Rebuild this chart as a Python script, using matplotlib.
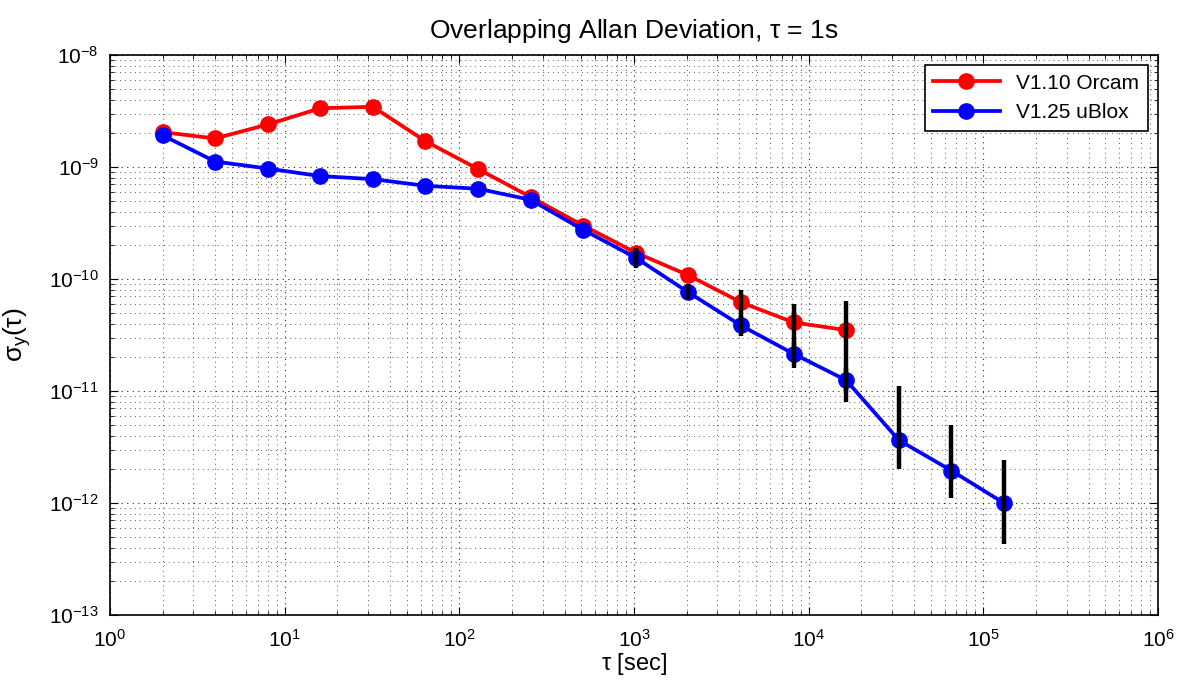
import matplotlib
matplotlib.use("Agg")
from matplotlib import pyplot as plt
import numpy as np

plt.rcParams['font.family'] = ['Liberation Sans', 'DejaVu Sans']
plt.rcParams['mathtext.fontset'] = 'custom'
plt.rcParams['mathtext.rm'] = 'Liberation Sans'
plt.rcParams['mathtext.it'] = 'Liberation Sans'

# averaging times
tau_red = [2, 4, 8, 16, 32, 64, 128, 256, 512, 1024, 2048, 4096, 8192, 16384]
tau_blue = [2, 4, 8, 16, 32, 64, 128, 256, 512, 1024, 2048, 4096, 8192, 16384,
            32768, 65536, 131072]

# overlapping Allan deviation
adev_red = [2.05e-9, 1.8e-9, 2.4e-9, 3.35e-9, 3.45e-9, 1.7e-9, 9.6e-10, 5.4e-10,
            3.0e-10, 1.72e-10, 1.08e-10, 6.2e-11, 4.1e-11, 3.5e-11]
adev_blue = [1.92e-9, 1.12e-9, 9.7e-10, 8.3e-10, 7.8e-10, 6.8e-10, 6.4e-10, 5.1e-10,
             2.75e-10, 1.55e-10, 7.6e-11, 3.85e-11, 2.15e-11, 1.25e-11,
             3.65e-12, 1.95e-12, 1.0e-12]

# confidence intervals (only where visible)
err_tau_red = [1024, 4096, 8192, 16384]
err_lo_red = [1.55e-10, 4.4e-11, 2.4e-11, 8.0e-12]
err_hi_red = [1.9e-10, 8.0e-11, 6.0e-11, 6.4e-11]

err_tau_blue = [1024, 2048, 4096, 8192, 16384, 32768, 65536, 131072]
err_lo_blue = [1.25e-10, 6.6e-11, 3.1e-11, 1.6e-11, 1.0e-11, 2.0e-12, 1.1e-12, 4.3e-13]
err_hi_blue = [1.8e-10, 9.0e-11, 4.7e-11, 2.8e-11, 1.6e-11, 1.1e-11, 5.0e-12, 2.4e-12]

fig = plt.figure(figsize=(11.8, 6.88), dpi=100)
ax = fig.add_axes([0.0932, 0.106, 0.8882, 0.814])

ax.plot(tau_red, adev_red, '-o', color='red', lw=2.7, ms=11, label='V1.10 Orcam', zorder=3)
ax.plot(tau_blue, adev_blue, '-o', color='blue', lw=2.7, ms=11, label='V1.25 uBlox', zorder=3)

ax.vlines(err_tau_red, err_lo_red, err_hi_red, color='black', lw=3.2, zorder=4)
ax.vlines(err_tau_blue, err_lo_blue, err_hi_blue, color='black', lw=3.2, zorder=4)

ax.set_xscale('log')
ax.set_yscale('log')
ax.set_xlim(1, 1e6)
ax.set_ylim(1e-13, 1e-8)
ax.set_xticks([1e0, 1e1, 1e2, 1e3, 1e4, 1e5, 1e6])
ax.set_yticks([1e-13, 1e-12, 1e-11, 1e-10, 1e-9, 1e-8])

ax.grid(True, which='major', linestyle=(0, (1, 4)), color='0.15', lw=0.8)
ax.grid(True, which='minor', linestyle=(0, (1, 4)), color='0.35', lw=0.7)
ax.tick_params(which='both', direction='in', top=True, right=True, labelsize=15)
ax.tick_params(axis='x', which='major', pad=10)
ax.tick_params(axis='y', which='major', pad=8)
ax.tick_params(which='major', length=6)
ax.tick_params(which='minor', length=3)
for s in ax.spines.values():
    s.set_linewidth(1.2)

ax.set_title(r'Overlapping Allan Deviation, $\tau$ = 1s', fontsize=19, pad=12)
ax.set_xlabel(r'$\tau$ [sec]', fontsize=17, labelpad=0)
ax.set_ylabel(r'$\sigma_y(\tau)$', fontsize=19, labelpad=12)

leg = ax.legend(loc='upper right', fontsize=15, fancybox=False, framealpha=1,
                edgecolor='black', handlelength=3.2, borderaxespad=0.5)
leg.get_frame().set_linewidth(1.2)

plt.savefig('out.png')
